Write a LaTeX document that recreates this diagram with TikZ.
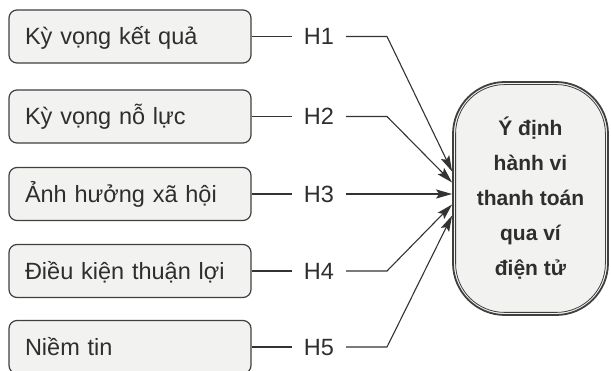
\documentclass[tikz,border=0pt]{standalone}
\usepackage{fontspec}
\setmainfont{Liberation Sans}
\usetikzlibrary{arrows.meta,calc}
\definecolor{boxfill}{HTML}{F2F2F0}
\definecolor{boxline}{HTML}{404040}
\definecolor{txt}{HTML}{2E2E2E}
\definecolor{wire}{HTML}{333333}
\tikzset{
  factor/.style={draw=boxline, line width=1.2pt, fill=boxfill, rounded corners=8pt,
    minimum width=242pt, minimum height=53pt, text width=210pt, inner xsep=16pt,
    align=left, text height=20pt, text depth=3pt, text=txt,
    font=\fontsize{23.5}{28}\selectfont},
  hyp/.style={inner xsep=12pt, inner ysep=0pt, text height=20pt, text depth=3pt,
    text=txt, font=\fontsize{23.5}{28}\selectfont},
  target/.style={draw=boxline, line width=1.8pt, fill=boxfill, rounded corners=52pt,
    minimum width=155pt, minimum height=233pt, align=center, text=txt,
    font=\fontsize{21}{35}\selectfont\bfseries},
  wireline/.style={draw=wire, line width=1.1pt},
  arr/.style={wireline, -{Stealth[length=16pt,width=9pt,inset=3pt]}}
}
\begin{document}
\begin{tikzpicture}[x=1pt,y=-1pt]
\useasboundingbox[fill=white] (0,0) rectangle (611,371);
\node[factor] (f1) at (130,36.5) {Kỳ vọng kết quả};
\node[factor] (f2) at (130,116.5) {Kỳ vọng nỗ lực};
\node[factor] (f3) at (130,194) {Ảnh hưởng xã hội};
\node[factor] (f4) at (130,271) {Điều kiện thuận lợi};
\node[factor] (f5) at (130,347) {Niềm tin};
\node[hyp] (h1) at (319,36.5) {H1};
\node[hyp] (h2) at (319,116.5) {H2};
\node[hyp] (h3) at (319,194) {H3};
\node[hyp] (h4) at (319,271) {H4};
\node[hyp] (h5) at (319,347) {H5};
\node[target] (t) at (530.5,198.5) {Ý định\\hành vi\\thanh toán\\qua ví\\điện tử};
\draw[draw=boxline, line width=0.8pt, rounded corners=49pt]
  ($(t.north west)+(3.5,3.5)$) rectangle ($(t.south east)+(-3.5,-3.5)$);
\coordinate (e1) at (387,36.5);
\coordinate (e2) at (387,116.5);
\coordinate (e4) at (387,271);
\coordinate (e5) at (387,347);
\foreach \i in {1,...,5} {\draw[wireline] (f\i.east) -- (h\i.west);}
\draw[arr] (h1.east) -- (e1) -- ($(t.west)+(0,-27)$);
\draw[arr] (h2.east) -- (e2) -- ($(t.west)+(0,-16)$);
\draw[arr] (h3.east) -- (h3.east -| t.west);
\draw[arr] (h4.east) -- (e4) -- ($(t.west)+(0,6)$);
\draw[arr] (h5.east) -- (e5) -- ($(t.west)+(0,17)$);
\end{tikzpicture}
\end{document}
